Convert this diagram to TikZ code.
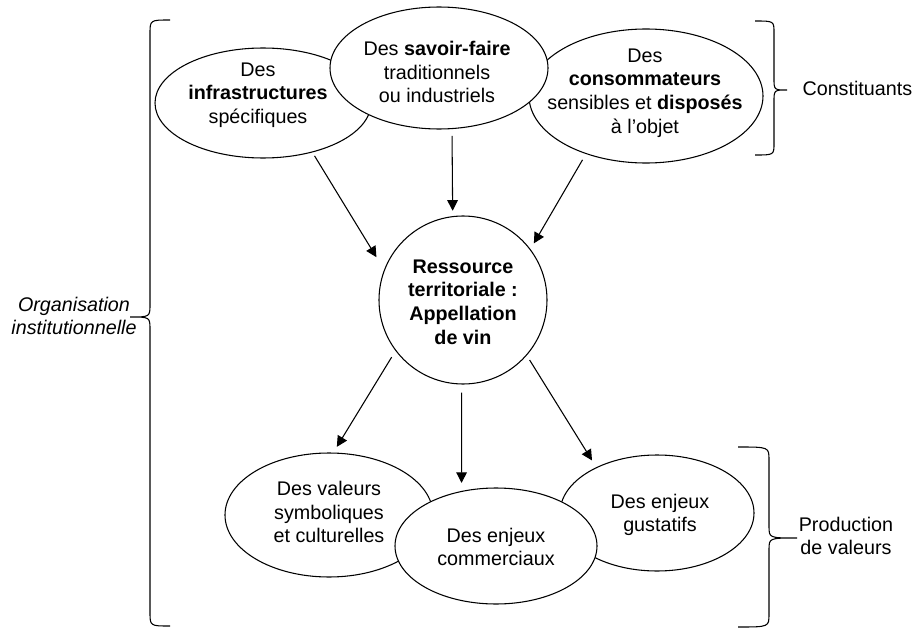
\documentclass[tikz,border=0pt]{standalone}
\usepackage{fontspec}
\setmainfont{Liberation Sans}
\usepackage{tikz}
\usetikzlibrary{arrows.meta,shapes.geometric}

\begin{document}
\begin{tikzpicture}[>={Triangle[length=8pt,width=8pt]}, x=0.75pt, y=-0.75pt, line width=0.8pt,
	bulle/.style={ellipse, draw, fill=white, inner sep=0pt},
	txt/.style={align=center, inner sep=0pt, font=\fontsize{14.8}{17.7}\selectfont}]
%	\draw [help lines] (0,0) grid (915,628);
	\useasboundingbox (0,0) rectangle (915,628);
	% constituants
	\node [bulle, minimum width=162pt, minimum height=82.5pt] (infra) at (263,103) {};
	\node [txt] (infratxt) at (258,95) {Des\\\textbf{infrastructures}\\spécifiques};
	\node [bulle, minimum width=175.5pt, minimum height=100.5pt] (conso) at (646,96) {};
	\node [txt] (consotxt) at (645,93) {Des\\\textbf{consommateurs}\\sensibles et \textbf{disposés}\\à l’objet};
	\node [bulle, minimum width=163.5pt, minimum height=91.5pt] (savoir) at (439,68) {};
	\node [txt] (savoirtxt) at (437,72) {Des \textbf{savoir-faire}\\traditionnels\\ou industriels};
	% ressource
	\node [bulle, minimum width=126pt, minimum height=126pt] (res) at (463,300) {};
	\node [txt, font=\fontsize{14.8}{17.7}\selectfont\bfseries] (restxt) at (463,302) {Ressource\\territoriale~:\\Appellation\\de vin};
	% production
	\node [bulle, minimum width=156pt, minimum height=93pt] (valeurs) at (329,515) {};
	\node [txt] (valeurstxt) at (329,512) {Des valeurs\\symboliques\\et culturelles};
	\node [bulle, minimum width=145.5pt, minimum height=87pt] (gust) at (657,513) {};
	\node [txt] (gusttxt) at (660,515) {Des enjeux\\gustatifs};
	\node [bulle, minimum width=151.5pt, minimum height=87pt] (comm) at (496,546) {};
	\node [txt] (commtxt) at (496,547) {Des enjeux\\commerciaux};
	% fleches
	\draw [->, shorten <=3pt, shorten >=11pt] (infra.-45) -- (res.159);
	\draw [->, shorten <=5pt, shorten >=4pt] (savoir.-78) -- (res.97.5);
	\draw [->, shorten <=5pt, shorten >=5pt] (conso.-136) -- (res.37);
	\draw [->, shorten <=5.5pt, shorten >=5pt] (res.-143) -- (valeurs.86);
	\draw [->, shorten <=6pt, shorten >=6pt] (res.-91) -- (comm.122);
	\draw [->, shorten <=4pt, shorten >=6pt] (res.-41) -- (gust.143);
	% accolades
	\draw (170,20) .. controls (150,20) .. (150,34) -- (150,304) .. controls (150,317) .. (130,317)
		.. controls (150,317) .. (150,330) -- (150,612) .. controls (150,626) .. (170,626);
	\node [txt, font=\fontsize{14.8}{17.7}\selectfont\itshape] (orga) at (74,316) {Organisation\\institutionnelle};
	\draw (755,21) .. controls (774,21) .. (774,33) -- (774,78) .. controls (774,90) .. (787,90)
		.. controls (774,90) .. (774,102) -- (774,143) .. controls (774,155) .. (755,155);
	\node [txt, anchor=west] (const) at (802,88) {Constituants};
	\draw (738,447) .. controls (769,447) .. (769,460) -- (769,526) .. controls (769,538) .. (797,538)
		.. controls (769,538) .. (769,550) -- (769,614) .. controls (769,627) .. (738,627);
	\node [txt] (prod) at (846,536) {Production\\de valeurs};
\end{tikzpicture}
\end{document}
